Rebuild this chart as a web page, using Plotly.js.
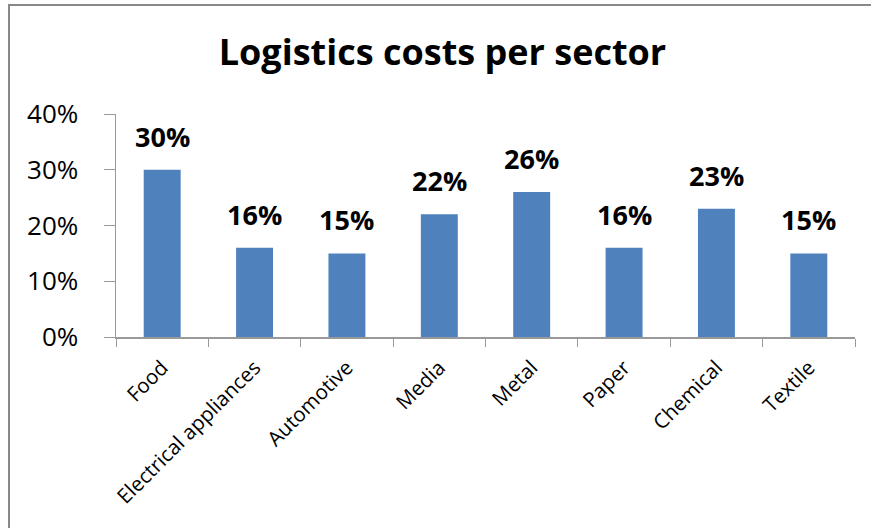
<!DOCTYPE html>
<html>
<head>
<meta charset="utf-8">
<script src="https://cdn.plot.ly/plotly-3.0.1.min.js"></script>
<style>
  html, body { margin: 0; padding: 0; background: #fff; overflow: hidden; }
  #chart { width: 871px; height: 528px; position: relative; }
  #frame { position: absolute; left: 8px; top: 4px; width: 863px; height: 524px;
           border-top: 2px solid #888; border-left: 2px solid #888; box-sizing: border-box;
           pointer-events: none; z-index: 10; }
</style>
</head>
<body>
<div id="frame"></div>
<div id="chart"></div>
<script>
const categories = ["Food", "Electrical appliances", "Automotive", "Media", "Metal", "Paper", "Chemical", "Textile"];
const costShare = [0.30, 0.16, 0.15, 0.22, 0.26, 0.16, 0.23, 0.15];
const yTickValues = [0, 0.1, 0.2, 0.3, 0.4];
const yTickLabels = ["0%", "10%", "20%", "30%", "40%"];
const chartTitle = "Logistics costs per sector";

const font = "'Open Sans', 'Noto Sans', sans-serif";

const trace = {
  type: "bar",
  x: categories,
  y: costShare,
  marker: { color: "#4F81BD" },
  hoverinfo: "skip"
};

const annotations = categories.map((c, i) => ({
  x: c,
  y: costShare[i],
  xref: "x",
  yref: "y",
  text: "<b>" + Math.round(costShare[i] * 100) + "%</b>",
  showarrow: false,
  yanchor: "bottom",
  yshift: 13,
  font: { family: font, size: 27, color: "#000" }
}));

const layout = {
  width: 871,
  height: 528,
  margin: { l: 116, r: 16, t: 114, b: 191 },
  paper_bgcolor: "#fff",
  plot_bgcolor: "#fff",
  showlegend: false,
  bargap: 0.6,
  title: {
    text: "<b>" + chartTitle + "</b>",
    font: { family: font, size: 36, color: "#000" },
    x: 0.508,
    xanchor: "center",
    y: 0.9,
    yanchor: "middle"
  },
  xaxis: {
    type: "category",
    tickangle: -45,
    tickfont: { family: font, size: 20.5, color: "#000" },
    showline: true,
    linecolor: "#999",
    linewidth: 1.5,
    ticks: "outside",
    ticklen: 8,
    tickcolor: "#999",
    tickson: "boundaries",
    ticklabelstandoff: 9,
    showgrid: false,
    zeroline: false
  },
  yaxis: {
    range: [0, 0.4],
    tickvals: yTickValues,
    ticktext: yTickLabels,
    tickfont: { family: font, size: 26, color: "#000" },
    showline: true,
    linecolor: "#999",
    linewidth: 1.5,
    ticks: "outside",
    ticklen: 11,
    tickcolor: "#999",
    ticklabelstandoff: 20,
    showgrid: false,
    zeroline: false
  },
  annotations: annotations
};

Plotly.newPlot("chart", [trace], layout, { displayModeBar: false, staticPlot: true });
</script>
</body>
</html>
